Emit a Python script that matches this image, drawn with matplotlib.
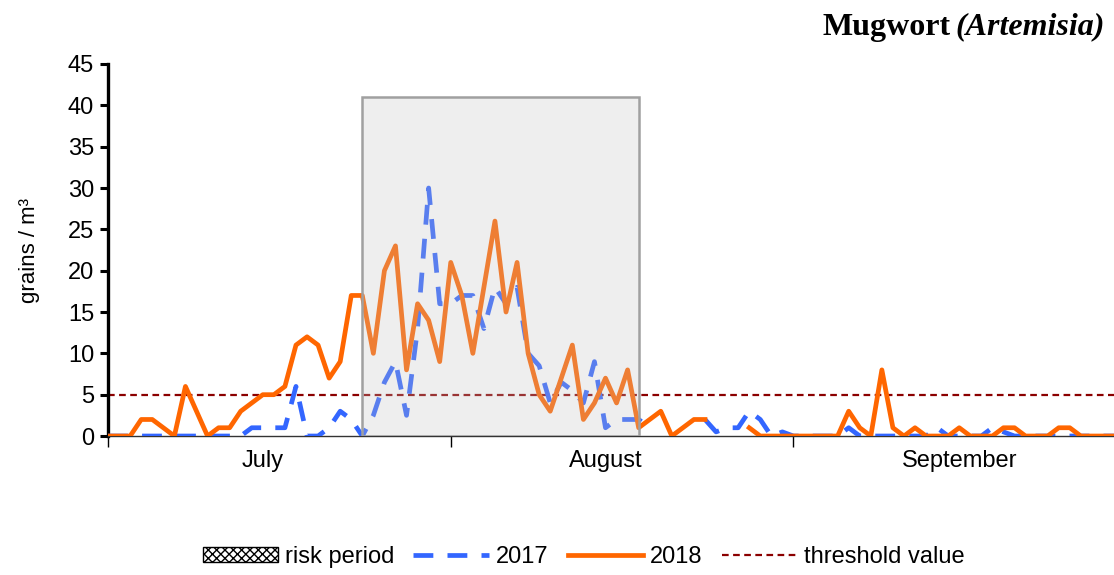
import numpy as np
import pandas as pd
import matplotlib
matplotlib.use('Agg')
import matplotlib.pyplot as plt
from matplotlib.patches import Rectangle, Patch
from matplotlib.lines import Line2D

plt.rcParams['font.family'] = ['Liberation Sans', 'DejaVu Sans']
plt.rcParams['hatch.color'] = '#b5b5b5'

nan = np.nan

# daily pollen counts (grains / m3), 1 July .. 30 September
days = pd.date_range('2018-07-01', '2018-09-30', freq='D')

y2018 = [0, 0, 0, 2, 2, 1, 0, 6, 3, 0, 1, 1, 3, 4, 5, 5, 6, 11, 12, 11,
         7, 9, 17, 17, 10, 20, 23, 8, 16, 14, 9, 21, 17, 10, 18, 26, 15, 21, 10, 5,
         3, 7, 11, 2, 4, 7, 4, 8, 1, 2, 3, 0, 1, 2, 2, nan, nan, nan, 1, 0,
         0, 0, 0, 0, 0, 0, 0, 3, 1, 0, 8, 1, 0, 1, 0, 0, 0, 1, 0, 0,
         0, 1, 1, 0, 0, 0, 1, 1, 0, 0, 0, 0]

y2017 = [0, 0, 0, 0, 0, 0, 0, 0, 0, 0, 0, 0, 0, 1, 1, 1, 1, 6, 0, 0,
         1, 3, 2, 0, 2.5, 6.5, 9, 2.5, 13, 30, 16, 16, 17, 17, 13, 18, 16, 18, 10, 8.5,
         4, 6.5, 5.5, 4, 9, 1, 2, 2, 2, 1, nan, nan, nan, nan, 2, 0.5, 1, 1, 3, 2,
         0, 0.5, 0, 0, 0, 0, 0, 1, 0, 0, 0, 0, 0, 0, 0, 1, 0, 0, 0, 0,
         1, 0.5, 0, 0, 0, 0, 0, 0, 0, 0, 0, 0]

threshold = 5
risk_start = pd.Timestamp('2018-07-24')
risk_end = pd.Timestamp('2018-08-18')
risk_top = 41

month_ticks = pd.to_datetime(['2018-07-01', '2018-08-01', '2018-09-01'])
month_label_pos = pd.to_datetime(['2018-07-15', '2018-08-15', '2018-09-16'])
month_labels = ['July', 'August', 'September']

fig = plt.figure(figsize=(11.14, 5.75), dpi=100)
ax = fig.add_axes([0.097, 0.2417, 0.903, 0.647])

ax.axhline(threshold, color='#8B0000', lw=1.6, dashes=(3, 2), zorder=2)
ax.plot(days, y2017, color='#3366FF', lw=3.4, dashes=(4.2, 3), zorder=3)
ax.plot(days, y2018, color='#FF6600', lw=3.4, zorder=4)

# risk period box, semi transparent on top of the lines
x0 = matplotlib.dates.date2num(risk_start)
x1 = matplotlib.dates.date2num(risk_end)
ax.add_patch(Rectangle((x0, 0), x1 - x0, risk_top, facecolor='#c1c1c1',
                       alpha=0.27, edgecolor='none', zorder=5))
ax.add_patch(Rectangle((x0, 0), x1 - x0, risk_top, facecolor='none',
                       edgecolor='#a0a0a0', lw=1.8, zorder=6))

ax.set_xlim(days[0], days[-1])
ax.set_ylim(0, 45)
ax.set_yticks(range(0, 50, 5))
ax.tick_params(axis='y', labelsize=17, length=6, width=2.2, direction='out', pad=4)
ax.set_xticks(month_ticks)
ax.set_xticklabels([])
ax.tick_params(axis='x', which='major', length=8, width=1, direction='out')
ax.set_xticks(month_label_pos, minor=True)
ax.set_xticklabels(month_labels, minor=True, fontsize=17)
ax.tick_params(axis='x', which='minor', length=0, pad=10)

for s in ['top', 'right']:
    ax.spines[s].set_visible(False)
ax.spines['left'].set_linewidth(2.4)
ax.spines['bottom'].set_linewidth(1)
ax.spines['bottom'].set_color('#333333')

ax.set_ylabel('grains / m³', fontsize=16, labelpad=20)

# title: bold name + bold italic latin name, right aligned
t2 = fig.text(0.992, 0.953, '(Artemisia)', ha='right', va='center', fontsize=23,
              family='Liberation Serif', weight='bold', style='italic')
fig.canvas.draw()
bb = t2.get_window_extent(fig.canvas.get_renderer())
fig.text(bb.x0 / fig.bbox.width - 0.005, 0.953, 'Mugwort', ha='right', va='center',
         fontsize=23, family='Liberation Serif', weight='bold')

handles = [Patch(facecolor='white', edgecolor='black', hatch='xxxx', lw=1),
           Line2D([], [], color='#3366FF', lw=3.4, dashes=(4.2, 3)),
           Line2D([], [], color='#FF6600', lw=3.4),
           Line2D([], [], color='#8B0000', lw=1.6, dashes=(3, 2))]
fig.legend(handles, ['risk period', '2017', '2018', 'threshold value'],
           loc='center', bbox_to_anchor=(0.524, 0.031), ncol=4, frameon=False,
           fontsize=17, handlelength=3.2, handleheight=0.6, columnspacing=0.8,
           handletextpad=0.3)

fig.savefig('out.png', dpi=100)
